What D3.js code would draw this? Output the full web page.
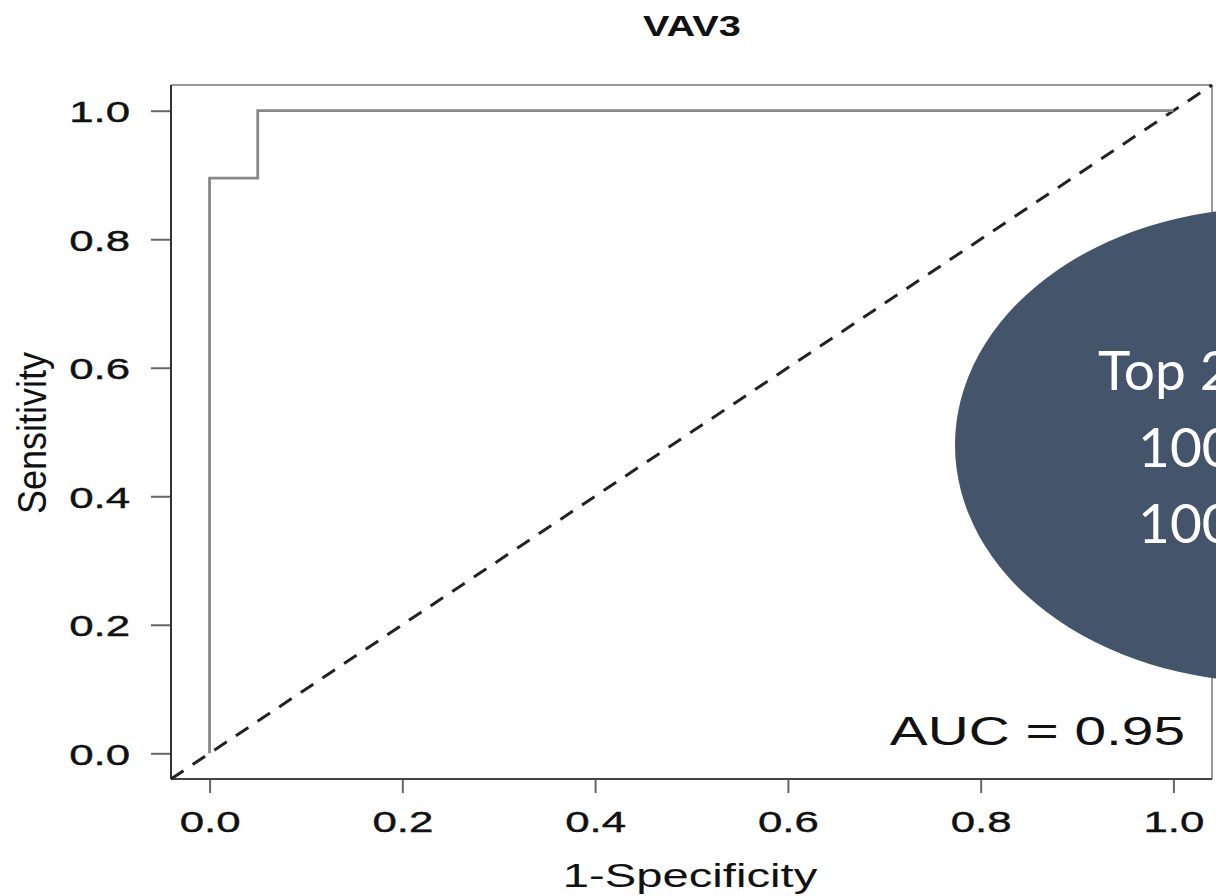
<!DOCTYPE html>
<html>
<head>
<meta charset="utf-8">
<script src="https://cdn.jsdelivr.net/npm/d3@7"></script>
<style>
  html, body { margin: 0; padding: 0; background: #fff; }
  svg { display: block; }
</style>
</head>
<body>
<div id="chart"></div>
<script>
// ROC curve points (1-specificity, sensitivity)
const fpr = [0, 0, 0.05, 0.05, 1.0]
const tpr = [0, 0.895, 0.895, 1.0, 1.0]
const xTicks = [0, 0.2, 0.4, 0.6, 0.8, 1.0]
const yTicks = [0, 0.2, 0.4, 0.6, 0.8, 1.0]
const overlayLines = ['Top 20', '100%', '100%']

const W = 1216, H = 896
const box = { left: 171, right: 1212, top: 85, bottom: 779 }
const sx = 1.46   // the picture was stretched sideways

const svg = d3.select('#chart').append('svg')
  .attr('width', W).attr('height', H)

const x = d3.scaleLinear().domain([-0.04, 1.04]).range([box.left, box.right])
const y = d3.scaleLinear().domain([-0.04, 1.04]).range([box.bottom, box.top])

const font = "'Liberation Sans', Arial, sans-serif"

// X AXIS
const gx = svg.append('g')
  .attr('transform', 'translate(0,' + box.bottom + ')')
  .call(d3.axisBottom(x).tickValues(xTicks).tickFormat(d3.format('.1f')).tickSize(14).tickSizeOuter(0))
gx.select('.domain').remove()
gx.selectAll('.tick line').attr('stroke', '#666').attr('stroke-width', 2)
gx.selectAll('.tick text')
  .attr('y', 53).attr('dy', 0)
  .attr('transform', 'scale(' + sx + ',1)')
  .attr('font-family', font).attr('font-size', 30).attr('fill', '#111')
  .attr('stroke', '#111').attr('stroke-width', 0.4)

// Y AXIS
const gy = svg.append('g')
  .attr('transform', 'translate(' + box.left + ',0)')
  .call(d3.axisLeft(y).tickValues(yTicks).tickFormat(d3.format('.1f')).tickSize(20).tickSizeOuter(0))
gy.select('.domain').remove()
gy.selectAll('.tick line').attr('stroke', '#666').attr('stroke-width', 2)
gy.selectAll('.tick text')
  .attr('x', -41 / sx).attr('dy', '0.36em')
  .attr('transform', 'scale(' + sx + ',1)')
  .attr('font-family', font).attr('font-size', 30).attr('fill', '#111')
  .attr('stroke', '#111').attr('stroke-width', 0.4)

// BOX
svg.append('line').attr('x1', box.left).attr('x2', box.right).attr('y1', box.top).attr('y2', box.top)
  .attr('stroke', '#999').attr('stroke-width', 2)
svg.append('line').attr('x1', box.right).attr('x2', box.right).attr('y1', box.top).attr('y2', box.bottom)
  .attr('stroke', '#999').attr('stroke-width', 2)
svg.append('line').attr('x1', box.left).attr('x2', box.left).attr('y1', box.top).attr('y2', box.bottom)
  .attr('stroke', '#333').attr('stroke-width', 2)
svg.append('line').attr('x1', box.left).attr('x2', box.right).attr('y1', box.bottom).attr('y2', box.bottom)
  .attr('stroke', '#444').attr('stroke-width', 2)

// DIAGONAL REFERENCE
svg.append('line')
  .attr('x1', x(x.domain()[0])).attr('y1', y(y.domain()[0]))
  .attr('x2', x(x.domain()[1])).attr('y2', y(y.domain()[1]))
  .attr('stroke', '#222').attr('stroke-width', 3)
  .attr('stroke-dasharray', '15,11')

// ROC CURVE
const line = d3.line().x(d => x(d[0])).y(d => y(d[1]))
svg.append('path')
  .datum(d3.zip(fpr, tpr))
  .attr('d', line)
  .attr('fill', 'none')
  .attr('stroke', '#888').attr('stroke-width', 2.8)

// AUC LABEL
svg.append('text')
  .attr('transform', 'translate(1185,745) scale(1.42,1)')
  .attr('text-anchor', 'end')
  .attr('font-family', font).attr('font-size', 40).attr('fill', '#111')
  .text('AUC = 0.95')

// TITLE
svg.append('text')
  .attr('transform', 'translate(692,36) scale(1.37,1)')
  .attr('text-anchor', 'middle')
  .attr('font-family', font).attr('font-weight', 'bold').attr('font-size', 29).attr('fill', '#111')
  .text('VAV3')

// AXIS TITLES
svg.append('text')
  .attr('transform', 'translate(690,887) scale(1.41,1)')
  .attr('text-anchor', 'middle')
  .attr('font-family', font).attr('font-size', 33.5).attr('fill', '#111')
  .text('1-Specificity')

svg.append('text')
  .attr('transform', 'translate(46,433) scale(1.12,1) rotate(-90)')
  .attr('text-anchor', 'middle')
  .attr('font-family', font).attr('font-size', 36).attr('fill', '#111')
  .text('Sensitivity')

// OVERLAY ELLIPSE
svg.append('ellipse')
  .attr('cx', 1270).attr('cy', 445).attr('rx', 315).attr('ry', 237)
  .attr('fill', '#44546A')

const starts = [1098, 1138, 1138]
const baselines = [390, 467, 543]
svg.selectAll('text.overlay')
  .data(overlayLines)
  .enter().append('text')
  .attr('class', 'overlay')
  .attr('x', (d, i) => starts[i])
  .attr('y', (d, i) => baselines[i])
  .attr('font-family', "Lato, 'Open Sans', sans-serif")
  .attr('font-size', 55).attr('fill', '#fff')
  .text(d => d)
</script>
</body>
</html>
